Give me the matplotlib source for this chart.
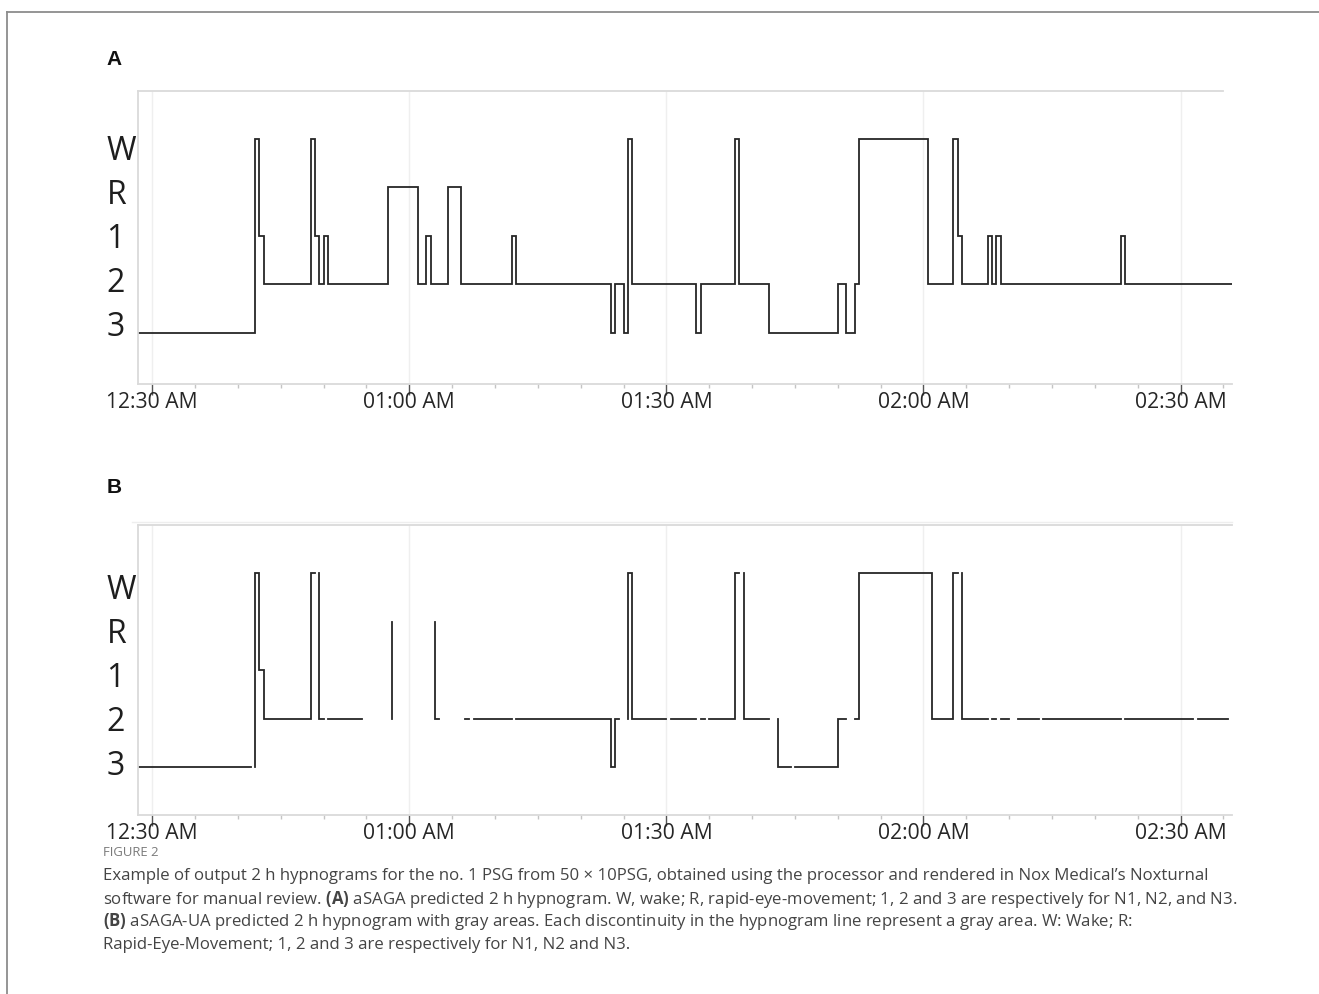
import numpy as np
import matplotlib
matplotlib.use("Agg")
import matplotlib.pyplot as plt
from matplotlib.lines import Line2D
from matplotlib.ticker import FixedLocator, MultipleLocator

# ---------------- data ----------------
stage_names = ['W', 'R', '1', '2', '3']
stage_level = {'W': 5, 'R': 4, '1': 3, '2': 2, '3': 1}
tick_minutes = [0, 30, 60, 90, 120]          # minutes after 12:30 AM
tick_labels = ['12:30 AM', '01:00 AM', '01:30 AM', '02:00 AM', '02:30 AM']

# Panel A: aSAGA hypnogram (transition times in minutes after 12:30 AM, stage from that time on)
a_time = [-1.5, 12, 12.5, 13, 18.5, 19, 19.5, 20, 20.5, 27.5, 31, 32, 32.5, 34.5,
          36, 42, 42.5, 53.5, 54, 55, 55.5, 56, 63.5, 64, 68, 68.5, 72, 80, 81,
          82, 82.5, 90.5, 93.5, 94, 94.5, 97.5, 98, 98.5, 99, 113, 113.5, 126]
a_stage = ['3', 'W', '1', '2', 'W', '1', '2', '1', '2', 'R', '2', '1', '2', 'R',
           '2', '1', '2', '3', '2', '3', 'W', '2', '3', '2', 'W', '2', '3', '2', '3',
           '2', 'W', '2', 'W', '1', '2', '1', '2', '1', '2', '1', '2', '2']

# Panel B: aSAGA-UA hypnogram, None = gray area (line interrupted)
b_time = [-1.5, 11.5, None,
          12, 12, 12.5, 13, 18.5, 19, None,
          19.5, 19.5, 20, None,
          20.5, 24.5, None,
          28, 28, None,
          33, 33, 33.5, None,
          36.5, 37, None,
          37.5, 42, None,
          42.5, 53.5, 54, 54.5, None,
          55.5, 55.5, 56, 60, None,
          60.5, 63.5, None,
          64, 64.5, None,
          65, 68, 68.5, None,
          69, 69, 72, None,
          73, 73, 74.5, None,
          75, 80, 81, None,
          82, 82.5, 91, 93.5, 94, None,
          94.5, 94.5, 97.5, None,
          98, 98.5, None,
          99, 100, None,
          101, 103.5, None,
          104, 113, None,
          113.5, 121.5, None,
          122, 125.5]
b_stage = ['3', '3', None,
           '3', 'W', '1', '2', 'W', 'W', None,
           'W', '2', '2', None,
           '2', '2', None,
           '2', 'R', None,
           'R', '2', '2', None,
           '2', '2', None,
           '2', '2', None,
           '2', '3', '2', '2', None,
           '2', 'W', '2', '2', None,
           '2', '2', None,
           '2', '2', None,
           '2', 'W', 'W', None,
           'W', '2', '2', None,
           '2', '3', '3', None,
           '3', '2', '2', None,
           '2', 'W', '2', 'W', 'W', None,
           'W', '2', '2', None,
           '2', '2', None,
           '2', '2', None,
           '2', '2', None,
           '2', '2', None,
           '2', '2', None,
           '2', '2']

caption_head = "FIGURE 2"
caption_lines = [
    "Example of output 2 h hypnograms for the no. 1 PSG from 50 \u00d7 10PSG, obtained using the processor and rendered in Nox Medical\u2019s Noxturnal",
    "software for manual review. $\\mathbf{(A)}$ aSAGA predicted 2 h hypnogram. W, wake; R, rapid-eye-movement; 1, 2 and 3 are respectively for N1, N2, and N3.",
    "$\\mathbf{(B)}$ aSAGA-UA predicted 2 h hypnogram with gray areas. Each discontinuity in the hypnogram line represent a gray area. W: Wake; R:",
    "Rapid-Eye-Movement; 1, 2 and 3 are respectively for N1, N2 and N3.",
]

# ---------------- style ----------------
W_PX, H_PX, DPI = 1319, 994, 100
FONT = 'Open Sans'
plt.rcParams['font.family'] = [FONT, 'DejaVu Sans']
plt.rcParams['mathtext.fontset'] = 'custom'
plt.rcParams['mathtext.bf'] = 'Open Sans:bold'
plt.rcParams['mathtext.rm'] = 'Open Sans'

LINE_COLOR = '#262626'
SPINE_COLOR = '#dadada'

fig = plt.figure(figsize=(W_PX / DPI, H_PX / DPI), dpi=DPI)


def fx(px):
    return px / W_PX


def fy(py):
    return 1 - py / H_PX


def to_levels(stages):
    return np.array([np.nan if s is None else stage_level[s] for s in stages], dtype=float)


def to_times(times):
    return np.array([np.nan if t is None else t for t in times], dtype=float)


def setup_axes(ax, label_offset):
    ax.set_xlim(-1.66, 126)
    for side in ['left', 'bottom', 'top']:
        ax.spines[side].set_color(SPINE_COLOR)
        ax.spines[side].set_linewidth(1.3)
    ax.spines['right'].set_visible(False)
    ax.spines['top'].set_bounds(-1.66, 125.0)
    ax.xaxis.set_major_locator(FixedLocator(tick_minutes))
    ax.xaxis.set_minor_locator(MultipleLocator(5))
    ax.set_xticklabels(tick_labels, fontsize=15.2, color='#262626')
    ax.tick_params(axis='x', which='major', direction='out', length=8, width=1.0,
                   color='#555555', pad=-2.5)
    ax.tick_params(axis='x', which='minor', direction='out', length=3, width=1.0,
                   color='#c4c4c4')
    ax.grid(axis='x', which='major', color='#efefef', linewidth=1.0)
    ax.set_axisbelow(True)
    ypos = [label_offset + 0.91 * stage_level[s] for s in stage_names]
    ax.set_yticks(ypos)
    ax.set_yticklabels(stage_names, fontsize=23, color='#1e1e1e')
    for lbl in ax.get_yticklabels():
        lbl.set_horizontalalignment('left')
    ax.tick_params(axis='y', length=0, pad=22.7)


# Panel A
axA = fig.add_axes([fx(138), fy(384), fx(1232) - fx(138), fy(90.7) - fy(384)])
axA.plot(to_times(a_time), to_levels(a_stage), drawstyle='steps-post',
         color=LINE_COLOR, linewidth=1.3, solid_joinstyle='miter')
axA.set_ylim(-0.06, 6.0)
setup_axes(axA, 0.27)

# Panel B
axB = fig.add_axes([fx(138), fy(815), fx(1232) - fx(138), fy(525) - fy(815)])
axB.plot(to_times(b_time), to_levels(b_stage), drawstyle='steps-post',
         color=LINE_COLOR, linewidth=1.3, solid_joinstyle='miter')
axB.set_ylim(0.02, 6.0)
setup_axes(axB, 0.19)
axB.spines['top'].set_bounds(-1.66, 126)
fig.add_artist(Line2D([fx(132), fx(1232)], [fy(521.5), fy(521.5)], color='#eeeeee', lw=1.0))

# panel letters
fig.text(fx(113.7), fy(59.7), 'A', fontsize=15, fontweight='bold',
         family=['Liberation Sans', 'DejaVu Sans'], ha='center', va='center', color='#111111')
fig.text(fx(113.7), fy(487), 'B', fontsize=15, fontweight='bold',
         family=['Liberation Sans', 'DejaVu Sans'], ha='center', va='center', color='#111111')

# figure frame (left and top lines)
fig.add_artist(Line2D([fx(7), fx(7)], [fy(12), 0], color='#8c8c8c', lw=1.3))
fig.add_artist(Line2D([fx(7), 1], [fy(12), fy(12)], color='#8c8c8c', lw=1.3))

# caption
fig.canvas.draw()
renderer = fig.canvas.get_renderer()
probe = fig.text(0, 0, caption_lines[0], fontsize=11)
w0 = probe.get_window_extent(renderer=renderer).width
probe.remove()
cap_size = 11 * (1211 - 103) / w0

fig.text(fx(103), fy(852), caption_head, fontsize=cap_size * 0.78, color='#7a7a7a',
         ha='left', va='center')
for i, line in enumerate(caption_lines):
    fig.text(fx(103), fy(876 + 23 * i), line, fontsize=cap_size, color='#444444',
             ha='left', va='center')

fig.savefig('out.png', dpi=DPI)
